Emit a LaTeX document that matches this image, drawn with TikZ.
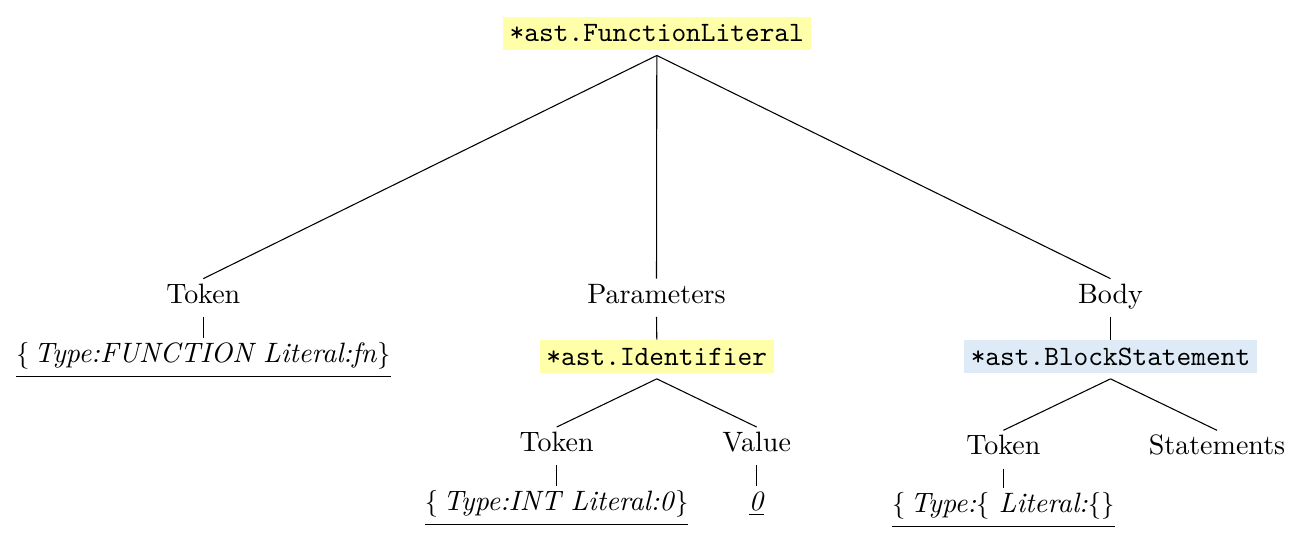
\documentclass[tikz,border=0pt]{standalone}
\usepackage{xcolor}
\definecolor{nodeyellow}{RGB}{255,255,170}
\definecolor{nodeblue}{RGB}{222,235,247}
\newcommand{\treesize}{\fontsize{10.45pt}{12.5pt}\selectfont}
\begin{document}
\begin{tikzpicture}[x=0.373pt,y=-0.373pt,
  field/.style={font=\treesize,inner sep=0pt,text height=9pt,text depth=4.85pt,anchor=base},
  leaf/.style={font=\treesize,inner sep=0pt,text height=9pt,text depth=4.85pt,anchor=base},
  astnode/.style={font=\treesize\ttfamily,inner xsep=2.5pt,inner ysep=0pt,minimum height=12.4pt},
  ptr/.style={astnode,fill=nodeyellow},
  blockptr/.style={astnode,fill=nodeblue},
  edge/.style={draw=black,line width=0.4pt}]
\useasboundingbox (0,0) rectangle (1302,544);

% root
\node[ptr] (root) at (656.8,33.3) {*ast.FunctionLiteral};

% first level fields
\node[field] (tok1) at (203.3,303.3) {Token};
\node[field] (params) at (656.5,303.3) {Parameters};
\node[field] (body) at (1110.5,303.3) {Body};

% Token leaf
\node[leaf] (lit1) at (203.3,362.7)
  {\underline{\strut$\{$\,\textit{Type:FUNCTION Literal:fn}$\}$}};

% Parameters subtree
\node[ptr] (ident) at (656.8,356.7) {*ast.Identifier};
\node[field] (tok2) at (556.7,451.7) {Token};
\node[field] (value) at (756.7,451.7) {Value};
\node[leaf] (lit2) at (556.7,510.5)
  {\underline{\strut$\{$\,\textit{Type:INT Literal:0}$\}$}};
\node[leaf] (zero) at (756.7,510.5) {\underline{\textit{0}}};

% Body subtree
\node[blockptr] (block) at (1110.5,356.7) {*ast.BlockStatement};
\node[field] (tok3) at (1003.4,455) {Token};
\node[field] (stmts) at (1217,455) {Statements};
\node[leaf] (lit3) at (1003.4,513)
  {\underline{\strut$\{$\,\textit{Type:}$\{$ \textit{Literal:}$\{\}$}};

% connectors
\draw[edge] ([yshift=-1.87pt]root.south) -- (tok1.north);
\draw[edge] ([yshift=-1.87pt]root.south) -- (params.north);
\draw[edge] ([yshift=-1.87pt]root.south) -- (body.north);
\draw[edge] (tok1.south) -- (lit1.north);
\draw[edge] (params.south) -- (ident.north);
\draw[edge] ([yshift=-1.87pt]ident.south) -- (tok2.north);
\draw[edge] ([yshift=-1.87pt]ident.south) -- (value.north);
\draw[edge] (tok2.south) -- (lit2.north);
\draw[edge] (value.south) -- (zero.north);
\draw[edge] (body.south) -- (block.north);
\draw[edge] ([yshift=-1.87pt]block.south) -- (tok3.north);
\draw[edge] ([yshift=-1.87pt]block.south) -- (stmts.north);
\draw[edge] (tok3.south) -- (lit3.north);
\end{tikzpicture}
\end{document}
